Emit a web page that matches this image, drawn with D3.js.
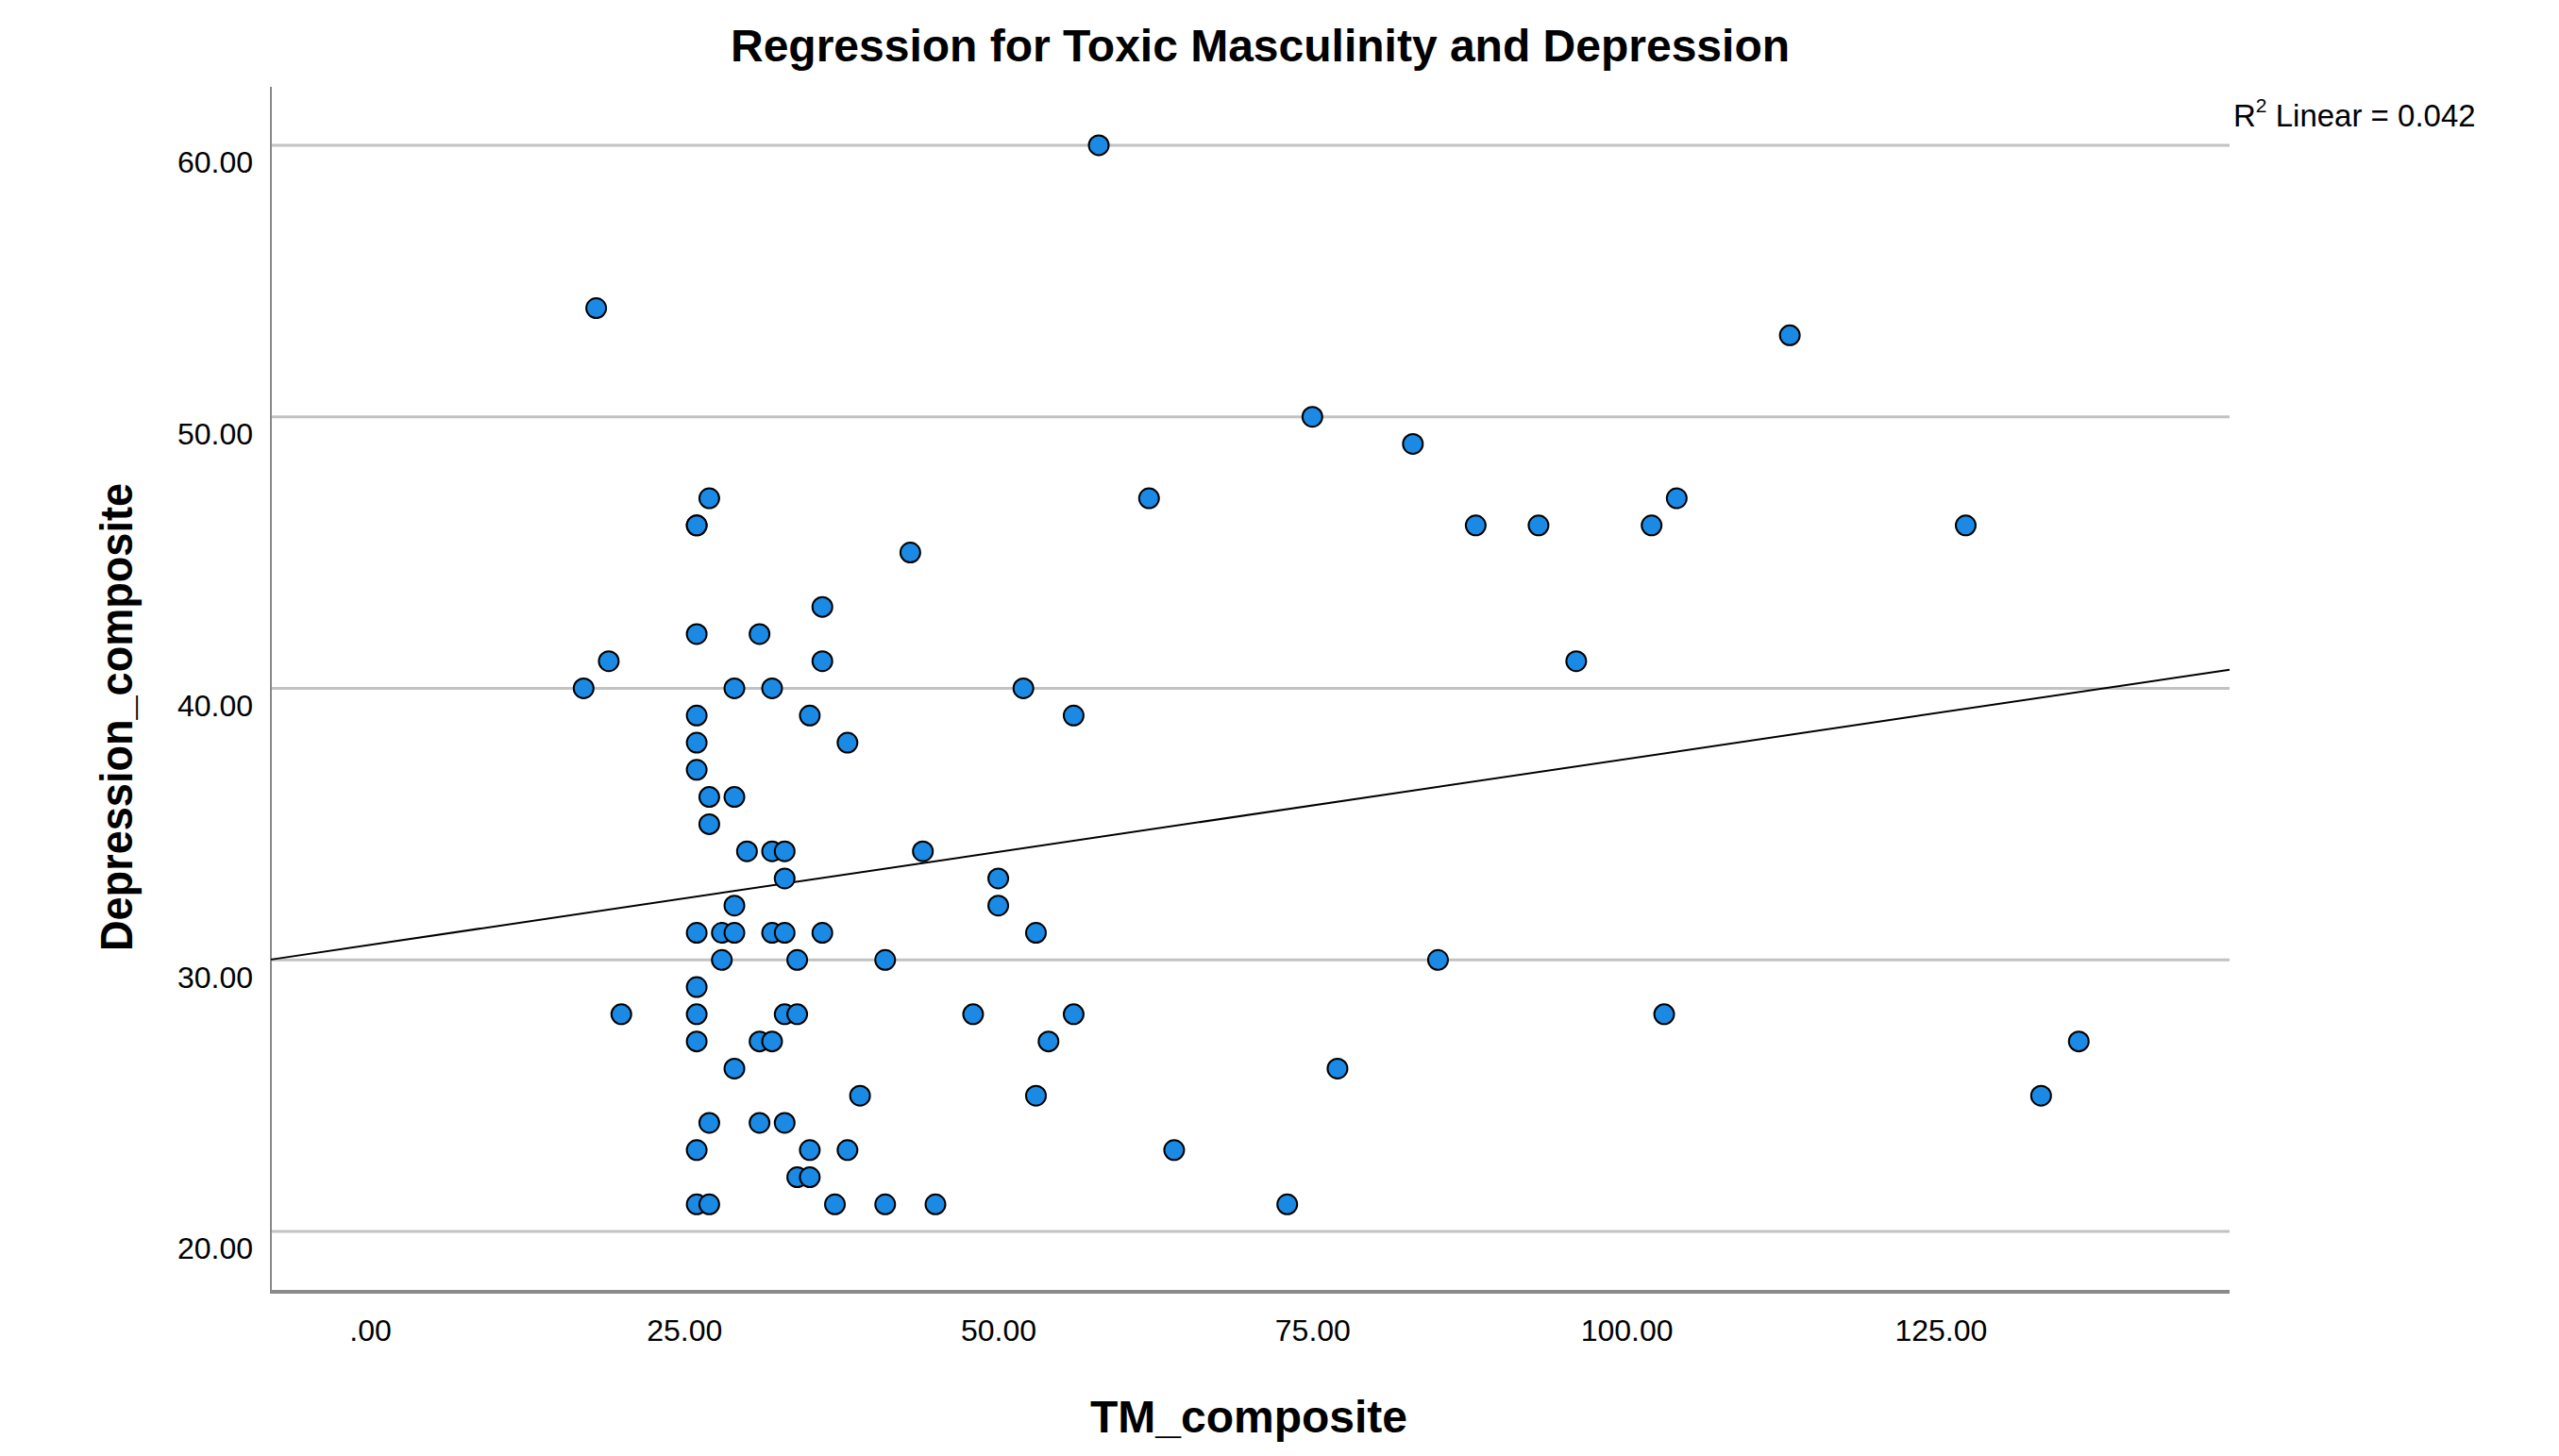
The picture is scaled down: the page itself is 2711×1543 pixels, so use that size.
<!DOCTYPE html>
<html>
<head>
<meta charset="utf-8">
<script src="https://cdn.jsdelivr.net/npm/d3@7"></script>
<style>
  body { margin: 0; background: #fff; }
  text { font-family: "Liberation Sans", Arial, sans-serif; fill: #000; }
</style>
</head>
<body>
<div class="scatterChart"></div>
<script>
// TM_composite (x) and Depression_composite (y), one entry per respondent
// (26, 46) appears twice: the two markers sit on top of each other
var tmComposite = [
  58, 18, 113, 75, 83, 27, 62, 104, 26, 26, 88,
  93, 102, 127, 43, 36, 26, 31, 19, 36, 96,
  17, 29, 32, 52, 26, 35, 56, 26, 38, 26,
  27, 29, 27, 30, 32, 33, 44, 33, 50, 29,
  50, 26, 28, 29, 32, 33, 36, 53, 28, 34,
  41, 85, 26, 20, 26, 33, 34, 48, 56, 103,
  26, 31, 32, 54, 136, 29, 77, 39, 53, 133,
  27, 31, 33, 26, 35, 38, 64, 34, 35, 26,
  27, 37, 41, 45, 73
];
var depressionComposite = [
  60, 54, 53, 50, 49, 47, 47, 47, 46, 46, 46,
  46, 46, 46, 45, 43, 42, 42, 41, 41, 41,
  40, 40, 40, 40, 39, 39, 39, 38, 38, 37,
  36, 36, 35, 34, 34, 34, 34, 33, 33, 32,
  32, 31, 31, 31, 31, 31, 31, 31, 30, 30,
  30, 30, 29, 28, 28, 28, 28, 28, 28, 28,
  27, 27, 27, 27, 27, 26, 26, 25, 25, 25,
  24, 24, 24, 23, 23, 23, 23, 22, 22, 21,
  21, 21, 21, 21, 21
];
var xTicks = [0, 25, 50, 75, 100, 125];
var yTicks = [20, 30, 40, 50, 60];
var rSquaredLabel = "0.042";

var width = 2711,
    height = 1543,
    plot = { left: 287, right: 2362, top: 92, bottom: 1369 };

var svg = d3.select(".scatterChart").append("svg")
    .attr("width", width)
    .attr("height", height);

var x = d3.scaleLinear().domain([-7.89, 148.0]).range([plot.left, plot.right]);
var y = d3.scaleLinear().domain([17.78, 62.15]).range([plot.bottom, plot.top]);

// SPSS style labels: ".00", "25.00" ...
var fmt = function(d) { return d3.format(".2f")(d).replace(/^0\./, "."); };

var points = tmComposite.map(function(v, i) { return { x: v, y: depressionComposite[i] }; });

// horizontal grid lines
svg.append("g").selectAll("line")
    .data(yTicks)
    .enter().append("line")
      .attr("x1", plot.left)
      .attr("x2", plot.right)
      .attr("y1", function(d) { return y(d); })
      .attr("y2", function(d) { return y(d); })
      .style("stroke", "#c2c2c2")
      .style("stroke-width", 3);

// axes (labels only, lines drawn by hand below)
var yAxis = svg.append("g")
    .attr("transform", "translate(" + (plot.left - 19) + ",0)")
    .call(d3.axisLeft(y).tickValues(yTicks).tickSize(0).tickPadding(0).tickFormat(fmt));
yAxis.select(".domain").remove();
yAxis.selectAll("text")
    .attr("dy", "0.9em")
    .style("font-size", "32px")
    .style("font-family", "'Liberation Sans', Arial, sans-serif");

var xAxis = svg.append("g")
    .attr("transform", "translate(0," + (plot.bottom + 28) + ")")
    .call(d3.axisBottom(x).tickValues(xTicks).tickSize(0).tickPadding(0).tickFormat(fmt));
xAxis.select(".domain").remove();
xAxis.selectAll("text")
    .attr("dy", "0.74em")
    .style("font-size", "32px")
    .style("font-family", "'Liberation Sans', Arial, sans-serif");

svg.append("line")
    .attr("x1", plot.left).attr("x2", plot.left)
    .attr("y1", plot.top).attr("y2", plot.bottom)
    .style("stroke", "#8a8a8a")
    .style("stroke-width", 2);

svg.append("line")
    .attr("x1", plot.left - 1).attr("x2", plot.right)
    .attr("y1", plot.bottom).attr("y2", plot.bottom)
    .style("stroke", "#8a8a8a")
    .style("stroke-width", 4);

// least squares fit line
var mx = d3.mean(tmComposite), my = d3.mean(depressionComposite);
var sxy = d3.sum(points, function(p) { return (p.x - mx) * (p.y - my); });
var sxx = d3.sum(points, function(p) { return (p.x - mx) * (p.x - mx); });
var slope = sxy / sxx,
    intercept = my - slope * mx;
var xd = x.domain();

svg.append("line")
    .attr("x1", x(xd[0])).attr("y1", y(intercept + slope * xd[0]))
    .attr("x2", x(xd[1])).attr("y2", y(intercept + slope * xd[1]))
    .style("stroke", "#000")
    .style("stroke-width", 2);

svg.append("g").selectAll("circle")
    .data(points)
    .enter().append("circle")
      .attr("cx", function(d) { return x(d.x); })
      .attr("cy", function(d) { return y(d.y); })
      .attr("r", 10.5)
      .style("fill", "#1a8ae4")
      .style("stroke", "#000")
      .style("stroke-width", 2);

svg.append("text")
    .attr("x", 1335)
    .attr("y", 65)
    .style("text-anchor", "middle")
    .style("font-size", "48px")
    .style("font-weight", "bold")
    .text("Regression for Toxic Masculinity and Depression");

svg.append("text")
    .attr("x", 1323)
    .attr("y", 1518)
    .style("text-anchor", "middle")
    .style("font-size", "48px")
    .style("font-weight", "bold")
    .text("TM_composite");

svg.append("text")
    .attr("transform", "translate(140,760) rotate(-90)")
    .style("text-anchor", "middle")
    .style("font-size", "48px")
    .style("font-weight", "bold")
    .attr("textLength", 496)
    .attr("lengthAdjust", "spacingAndGlyphs")
    .text("Depression_composite");

var r2 = svg.append("text")
    .attr("x", 2366)
    .attr("y", 134)
    .style("font-size", "33px");
r2.append("tspan").text("R");
r2.append("tspan").attr("dy", -15).style("font-size", "21px").text("2");
r2.append("tspan").attr("dy", 15).text(" Linear = " + rSquaredLabel);
</script>
</body>
</html>
